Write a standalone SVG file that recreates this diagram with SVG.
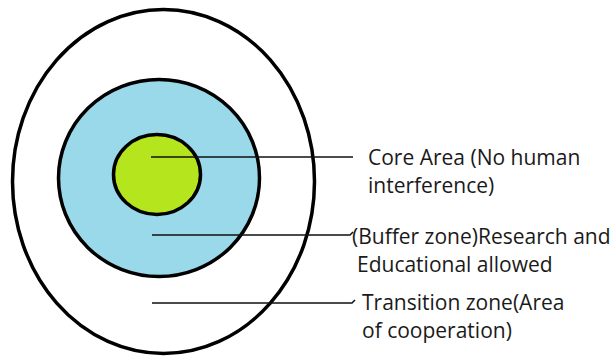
<svg xmlns="http://www.w3.org/2000/svg" width="616" height="360" viewBox="0 0 616 360">
<style>
.ring{stroke:#000;stroke-width:3.5}
.lead{stroke:#111;stroke-width:1.5;fill:none}
.lbl{font-family:"Open Sans","Noto Sans",sans-serif;font-size:21px;fill:#1a1a1a}
</style>
<rect width="616" height="360" fill="#fff"/>
<g id="transition-zone"><ellipse class="ring" cx="163.5" cy="181.5" rx="151" ry="172" fill="#fff"/></g>
<g id="buffer-zone"><ellipse class="ring" cx="159" cy="178" rx="100.5" ry="98.5" fill="#99d9ea"/></g>
<g id="core-area"><ellipse class="ring" cx="157" cy="174.5" rx="43.5" ry="40" fill="#b5e61d"/></g>
<g id="connectors">
<path class="lead" d="M151 157 H353"/>
<path class="lead" d="M152 235 H350 L353 232"/>
<path class="lead" d="M152 303 H352 L355 300"/>
</g>
<g id="label-core"><text class="lbl" x="368" y="165">Core Area (No human</text><text class="lbl" x="368" y="193">interference)</text></g>
<g id="label-buffer"><text class="lbl" x="352" y="244">(Buffer zone)Research and</text><text class="lbl" x="357" y="272">Educational allowed</text></g>
<g id="label-transition"><text class="lbl" x="362" y="310">Transition zone(Area</text><text class="lbl" x="362" y="338">of cooperation)</text></g>
</svg>
